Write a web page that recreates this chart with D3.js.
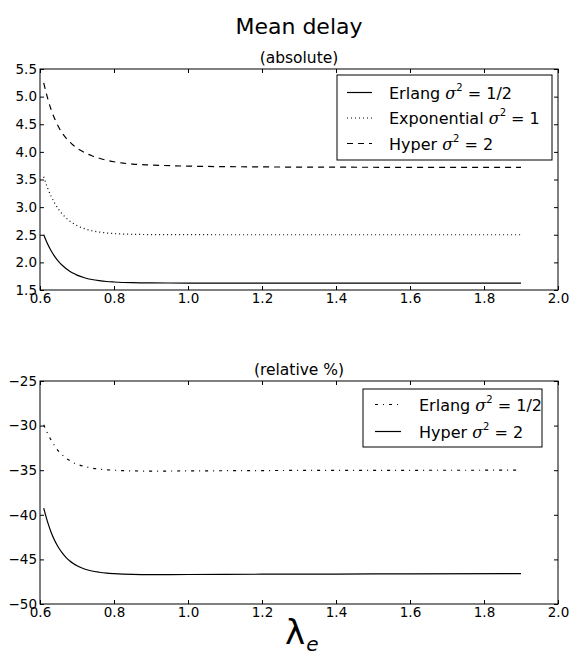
<!DOCTYPE html>
<html>
<head>
<meta charset="utf-8">
<script src="https://cdnjs.cloudflare.com/ajax/libs/d3/7.8.5/d3.min.js"></script>
<style>
  body { margin: 0; background: #fff; }
  text { font-family: "DejaVu Sans", sans-serif; fill: #000; }
</style>
</head>
<body>
<svg id="chart" width="572" height="655"></svg>
<script>
// arrival rate (x) values
const lambdas = [0.61, 0.62, 0.63, 0.64, 0.65, 0.66, 0.67, 0.68, 0.69, 0.70, 0.72, 0.74, 0.76, 0.78, 0.80, 0.85, 0.90, 1.0, 1.2, 1.4, 1.6, 1.9];

// mean delay, absolute
const erlangAbs = [2.50, 2.341, 2.211, 2.105, 2.018, 1.947, 1.889, 1.841, 1.802, 1.770, 1.722, 1.690, 1.669, 1.654, 1.645, 1.632, 1.628, 1.626, 1.625, 1.625, 1.625, 1.625];
const expoAbs   = [3.55, 3.355, 3.197, 3.068, 2.963, 2.877, 2.807, 2.750, 2.704, 2.666, 2.610, 2.573, 2.549, 2.532, 2.521, 2.508, 2.503, 2.501, 2.50, 2.50, 2.50, 2.50];
const hyperAbs  = [5.25, 4.985, 4.766, 4.594, 4.455, 4.342, 4.255, 4.185, 4.119, 4.066, 3.989, 3.931, 3.884, 3.848, 3.821, 3.779, 3.762, 3.742, 3.728, 3.723, 3.72, 3.718];

// mean delay, relative %
const erlangRel = [-29.9, -30.84, -31.62, -32.29, -32.87, -33.28, -33.64, -33.91, -34.15, -34.32, -34.58, -34.76, -34.88, -34.95, -35.0, -35.08, -35.1, -35.08, -35.04, -35.02, -35.01, -35.0];
const hyperRel  = [-39.25, -40.74, -41.95, -42.91, -43.67, -44.28, -44.77, -45.16, -45.47, -45.72, -46.07, -46.30, -46.44, -46.54, -46.6, -46.68, -46.7, -46.69, -46.66, -46.64, -46.62, -46.6];

const xTicks     = [0.6, 0.8, 1.0, 1.2, 1.4, 1.6, 1.8, 2.0];
const yTicksAbs  = [1.5, 2.0, 2.5, 3.0, 3.5, 4.0, 4.5, 5.0, 5.5];
const yTicksRel  = [-50, -45, -40, -35, -30, -25];

const svg = d3.select("#chart");
const LEFT = 40, RIGHT = 558;

const x = d3.scaleLinear().domain([0.6, 2.0]).range([LEFT, RIGHT]);

svg.append("text").attr("x", 299).attr("y", 34)
  .attr("text-anchor", "middle").attr("font-size", 22).text("Mean delay");

function panel(top, bottom, domain, yTicks, fmt, title, series, legend) {
  const y = d3.scaleLinear().domain(domain).range([bottom, top]);
  const g = svg.append("g");

  // curves
  const line = d3.line().x(d => x(d[0])).y(d => y(d[1])).curve(d3.curveMonotoneX);
  series.forEach(s => {
    g.append("path")
      .datum(d3.zip(lambdas, s.ys))
      .attr("fill", "none")
      .attr("stroke", "#000")
      .attr("stroke-width", 1.2)
      .attr("stroke-dasharray", s.dash)
      .attr("d", line);
  });

  // ticks, inward on all four sides
  const T = 4;
  const bottomAxis = d3.axisBottom(x).tickValues(xTicks).tickSizeInner(-T).tickSizeOuter(0)
    .tickFormat(d3.format(".1f"));
  const ax = g.append("g").attr("transform", `translate(0,${bottom})`).call(bottomAxis);
  const topAxis = d3.axisTop(x).tickValues(xTicks).tickSizeInner(-T).tickSizeOuter(0).tickFormat("");
  const at = g.append("g").attr("transform", `translate(0,${top})`).call(topAxis);
  const leftAxis = d3.axisLeft(y).tickValues(yTicks).tickSizeInner(-T).tickSizeOuter(0)
    .tickPadding(3).tickFormat(fmt);
  const al = g.append("g").attr("transform", `translate(${LEFT},0)`).call(leftAxis);
  const rightAxis = d3.axisRight(y).tickValues(yTicks).tickSizeInner(-T).tickSizeOuter(0).tickFormat("");
  const ar = g.append("g").attr("transform", `translate(${RIGHT},0)`).call(rightAxis);
  [ax, at, al, ar].forEach(a => {
    a.select(".domain").remove();
    a.selectAll("line").attr("stroke", "#000").attr("stroke-width", 1);
    a.selectAll("text").attr("font-size", 13.5).attr("font-family", "DejaVu Sans").attr("fill", "#000");
  });
  ax.selectAll("text").attr("y", 3).attr("dy", "0.76em");

  g.append("rect").attr("x", LEFT).attr("y", top)
    .attr("width", RIGHT - LEFT).attr("height", bottom - top)
    .attr("fill", "none").attr("stroke", "#000").attr("stroke-width", 1);

  g.append("text").attr("x", (LEFT + RIGHT) / 2).attr("y", top - 6)
    .attr("text-anchor", "middle").attr("font-size", 15.5).text(title);

  // legend
  const lg = g.append("g");
  lg.append("rect").attr("x", legend.x).attr("y", legend.y)
    .attr("width", legend.w).attr("height", legend.h)
    .attr("fill", "#fff").attr("stroke", "#000").attr("stroke-width", 1);
  series.forEach((s, i) => {
    const cy = legend.y + legend.first + i * legend.step;
    lg.append("line").attr("x1", legend.x + legend.l1).attr("x2", legend.x + legend.l2)
      .attr("y1", cy).attr("y2", cy)
      .attr("stroke", "#000").attr("stroke-width", 1.2).attr("stroke-dasharray", s.dash);
    const t = lg.append("text").attr("x", legend.x + legend.tx).attr("y", cy + 6).attr("font-size", 16);
    t.append("tspan").text(s.name + " ");
    t.append("tspan").attr("font-family", "DejaVu Serif").attr("font-style", "italic").text("σ");
    t.append("tspan").attr("font-size", 10).attr("dy", -8).text("2");
    t.append("tspan").attr("dy", 8).text("  = " + s.val);
  });
}

panel(69, 290, [1.5, 5.5], yTicksAbs, d3.format(".1f"), "(absolute)", [
  { name: "Erlang",      val: "1/2", ys: erlangAbs, dash: null },
  { name: "Exponential", val: "1",   ys: expoAbs,   dash: "1,3" },
  { name: "Hyper",       val: "2",   ys: hyperAbs,  dash: "6,5" }
], { x: 337, y: 75, w: 215, h: 85, first: 17.5, step: 25.5, l1: 10, l2: 35, tx: 52 });

panel(381, 604, [-50, -25], yTicksRel, d => d3.format("d")(d).replace("-", "\u2212"), "(relative %)", [
  { name: "Erlang", val: "1/2", ys: erlangRel, dash: "3,5,1,5" },
  { name: "Hyper",  val: "2",   ys: hyperRel,  dash: null }
], { x: 363, y: 389, w: 179, h: 58, first: 15.5, step: 27, l1: 12, l2: 38, tx: 56 });

// x label
const xl = svg.append("text").attr("x", 285).attr("y", 644).attr("font-family", "DejaVu Serif");
xl.append("tspan").attr("font-size", 34).text("λ");
xl.append("tspan").attr("font-size", 20).attr("font-style", "italic").attr("dx", 1).attr("dy", 7).text("e");
</script>
</body>
</html>
